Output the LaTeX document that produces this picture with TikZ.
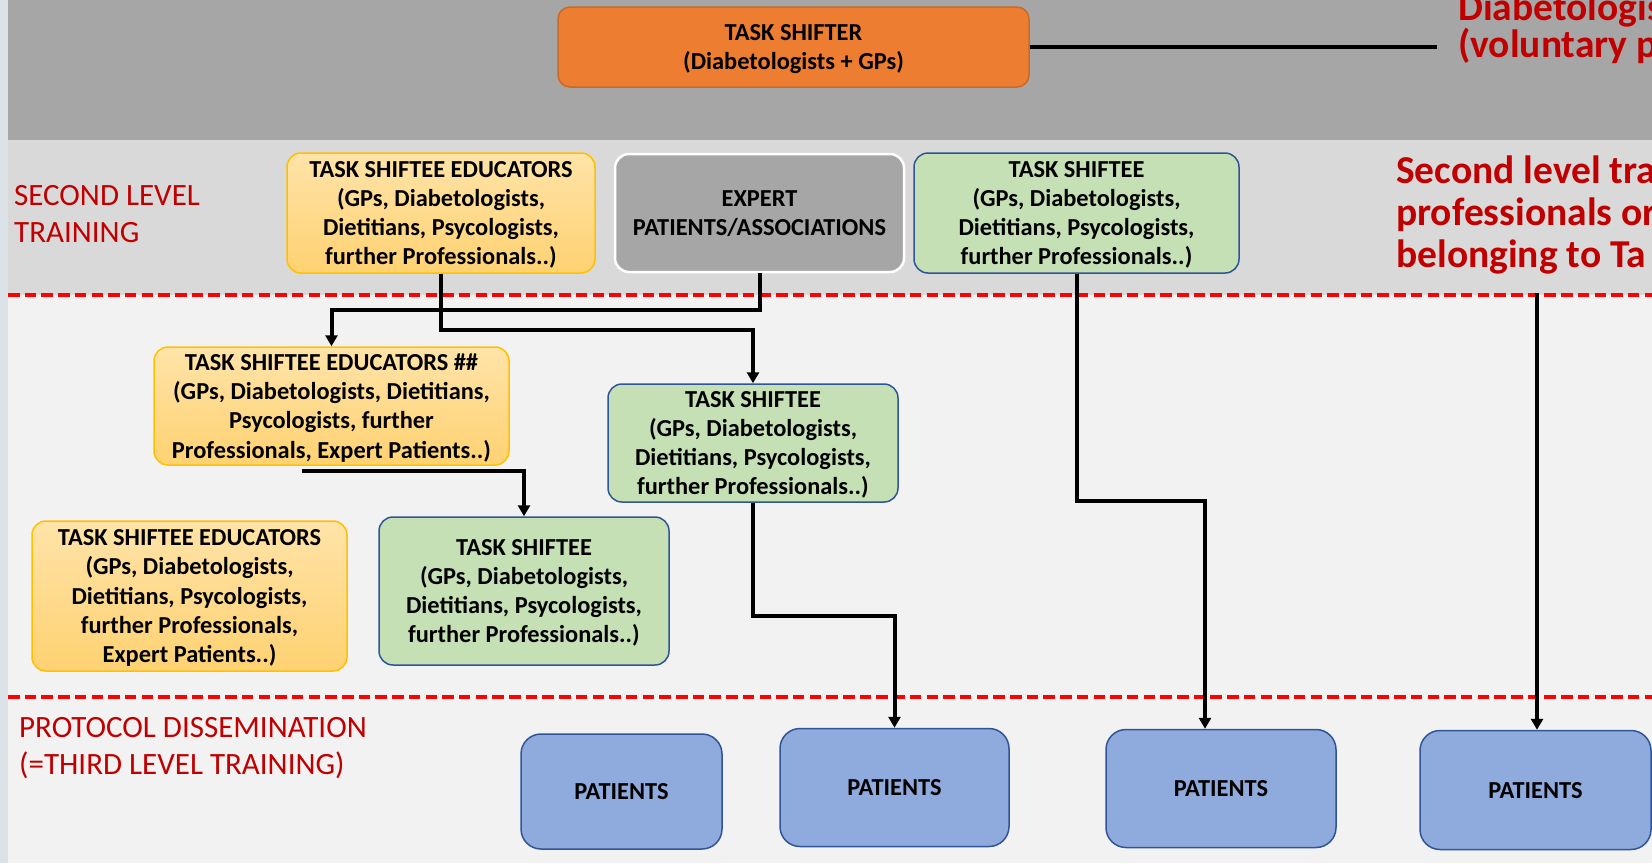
\documentclass[tikz,border=0pt]{standalone}
\usepackage{fontspec}
\setmainfont{Carlito}
\usetikzlibrary{arrows.meta}
\definecolor{bandA}{HTML}{A6A6A6}
\definecolor{bandB}{HTML}{D9D9D9}
\definecolor{bandC}{HTML}{F2F2F2}
\definecolor{txtred}{HTML}{C00000}
\definecolor{orangeF}{HTML}{ED7D31}
\definecolor{orangeD}{HTML}{C86A28}
\definecolor{yelT}{HTML}{FFE3A8}
\definecolor{yelB}{HTML}{FFD272}
\definecolor{yelD}{HTML}{FFC000}
\definecolor{greenF}{HTML}{C5E0B4}
\definecolor{blueD}{HTML}{2F5597}
\definecolor{patF}{HTML}{8FAADC}
\definecolor{stripC}{HTML}{DCE3E8}
\begin{document}
\begin{tikzpicture}[x=1pt,y=-1pt,
 box/.style={rectangle, rounded corners=14pt, align=center, inner sep=0pt, text depth=0pt, font=\fontsize{24.4}{29.3}\selectfont\bfseries, line width=1.5pt},
 obox/.style={box, fill=orangeF, draw=orangeD, rounded corners=12pt},
 ybox/.style={box, top color=yelT, bottom color=yelB, draw=yelD},
 gbox/.style={box, fill=greenF, draw=blueD},
 xbox/.style={box, fill=bandA, draw=white, line width=2.5pt},
 pbox/.style={box, fill=patF, draw=blueD, rounded corners=20pt},
 arr/.style={line width=4pt, -{Triangle[width=12pt,length=11pt]}},
 plain/.style={line width=4pt},
 sep/.style={draw=red, line width=4.5pt, dash pattern=on 11.5pt off 5.2pt},
 lab/.style={text=txtred, font=\fontsize{31}{37.5}\selectfont, align=left, inner sep=0pt, anchor=west},
 note/.style={text=txtred, font=\fontsize{39.5}{42}\selectfont\bfseries, align=left, inner sep=0pt, anchor=north west},
]
\clip (0,0) rectangle (1652,863);
\fill[bandA] (0,0) rectangle (1652,140);
\fill[bandB] (0,140) rectangle (1652,295);
\fill[bandC] (0,295) rectangle (1652,863);
\fill[stripC] (0,0) rectangle (8,863);
\draw[sep] (8,295) -- (1652,295);
\draw[sep] (8,697) -- (1652,697);

\node[obox, minimum width=471pt, minimum height=80pt] (shifter) at (793.5,47) {TASK SHIFTER\\(Diabetologists + GPs)};
\node[ybox, minimum width=308pt, minimum height=120pt] (edu1) at (441,213) {TASK SHIFTEE EDUCATORS\\(GPs, Diabetologists,\\Dietitians, Psycologists,\\further Professionals..)};
\node[xbox, minimum width=289pt, minimum height=118pt] (expert) at (759.5,213) {EXPERT\\PATIENTS/ASSOCIATIONS};
\node[gbox, minimum width=325pt, minimum height=120pt] (gtop) at (1076.5,213) {TASK SHIFTEE\\(GPs, Diabetologists,\\Dietitians, Psycologists,\\further Professionals..)};
\node[ybox, minimum width=355pt, minimum height=118pt] (edu2) at (331.5,406) {TASK SHIFTEE EDUCATORS \#\#\\(GPs, Diabetologists, Dietitians,\\Psycologists, further\\Professionals, Expert Patients..)};
\node[gbox, minimum width=290pt, minimum height=118pt] (gmid) at (753,443) {TASK SHIFTEE\\(GPs, Diabetologists,\\Dietitians, Psycologists,\\further Professionals..)};
\node[ybox, minimum width=315pt, minimum height=150pt] (edu3) at (189.5,596) {TASK SHIFTEE EDUCATORS\\(GPs, Diabetologists,\\Dietitians, Psycologists,\\further Professionals,\\Expert Patients..)};
\node[gbox, minimum width=290pt, minimum height=148pt] (gleft) at (524,591) {TASK SHIFTEE\\(GPs, Diabetologists,\\Dietitians, Psycologists,\\further Professionals..)};
\node[pbox, minimum width=201pt, minimum height=115pt] (p1) at (621.5,791.5) {PATIENTS};
\node[pbox, minimum width=229pt, minimum height=118pt] (p2) at (894.5,787.5) {PATIENTS};
\node[pbox, minimum width=230pt, minimum height=118pt] (p3) at (1221,788.5) {PATIENTS};
\node[pbox, minimum width=231pt, minimum height=119pt] (p4) at (1535.5,790) {PATIENTS};

\node[lab] (l2) at (14,214) {SECOND LEVEL\\TRAINING};
\node[lab] (l3) at (19,748) {PROTOCOL DISSEMINATION\\(=THIRD LEVEL TRAINING)};
\node[note, font=\fontsize{39.5}{37}\selectfont\bfseries] (tr) at (1458,-7) {Diabetologis\\(voluntary p};
\node[note] (sl) at (1396,156) {Second level tra\\professionals or\\belonging to Ta};

\coordinate (tl) at (1437,47);
\draw[plain] (shifter.east) -- (tl);
\draw[arr] (edu1.south) -- ++(0,56) -| (gmid.north);
\draw[arr] (expert.south) -- ++(0,37) -| (edu2.north);
\coordinate (e2o) at (302,471);
\draw[arr] (e2o) -| (gleft.north);
\draw[arr] (gmid.south) -- ++(0,113) -| (p2.north);
\coordinate (c3) at (1205,501);
\draw[arr] (gtop.south) |- (c3) -- (c3 |- p3.north);
\coordinate (r4) at (1537,293);
\draw[arr] (r4) -- (r4 |- p4.north);
\end{tikzpicture}
\end{document}
